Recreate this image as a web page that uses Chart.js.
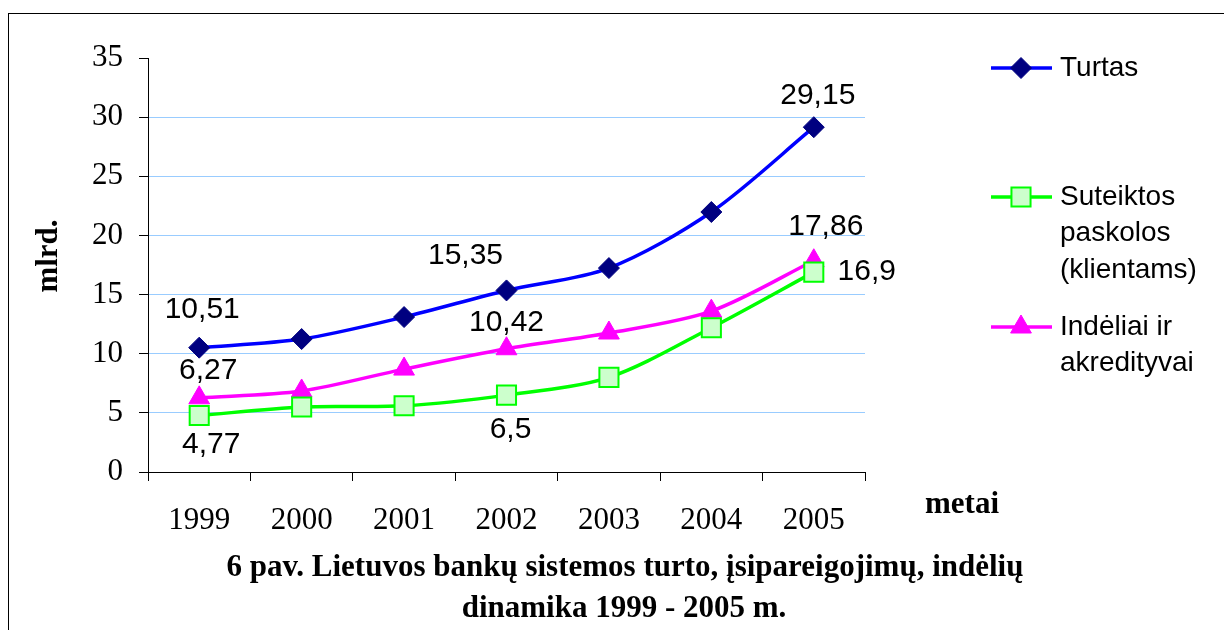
<!DOCTYPE html>
<html>
<head>
<meta charset="utf-8">
<script src="https://cdn.jsdelivr.net/npm/chart.js@4/dist/chart.umd.min.js"></script>
<style>
    html, body { margin: 0; padding: 0; background: #fff; }
    #wrap { position: relative; width: 1224px; height: 630px; }
    #frame { position: absolute; left: 8px; top: 13px; width: 1230px; height: 640px; border: 1.5px solid #000; box-sizing: border-box; }
    canvas { position: absolute; left: 0; top: 0; }
</style>
</head>
<body>
<div id="wrap">
    <div id="frame"></div>
    <canvas id="line-canvas" width="1224" height="630"></canvas>
</div>
<script>
    const years = ['1999', '2000', '2001', '2002', '2003', '2004', '2005'];
    const turtas = [10.51, 11.24, 13.1, 15.35, 17.24, 21.98, 29.15];
    const paskolos = [4.77, 5.5, 5.6, 6.5, 8.0, 12.2, 16.9];
    const indeliai = [6.27, 6.85, 8.7, 10.42, 11.75, 13.6, 17.86];
    const yTicks = [0, 5, 10, 15, 20, 25, 30, 35];

    // which points get a value label, and where the text sits relative to the point
    const labelSpots = [
        { ds: 0, i: 0, dx: 3, dy: -38 },
        { ds: 0, i: 3, dx: -41, dy: -35 },
        { ds: 0, i: 6, dx: 4, dy: -31 },
        { ds: 1, i: 0, dx: 12, dy: 29 },
        { ds: 1, i: 3, dx: 4, dy: 35 },
        { ds: 1, i: 6, dx: 53, dy: 0 },
        { ds: 2, i: 0, dx: 9, dy: -27 },
        { ds: 2, i: 3, dx: 0, dy: -26 },
        { ds: 2, i: 6, dx: 12, dy: -34 }
    ];

    const legendItems = [
        { ds: 0, y: 68, lines: ['Turtas'] },
        { ds: 1, y: 197, lines: ['Suteiktos', 'paskolos', '(klientams)'] },
        { ds: 2, y: 327, lines: ['Indėliai ir', 'akredityvai'] }
    ];

    const fmt = v => String(v).replace('.', ',');

    const extrasPlugin = {
        id: 'extras',
        afterDatasetsDraw(chart) {
            const ctx = chart.ctx;
            ctx.save();
            ctx.fillStyle = '#000';
            ctx.textAlign = 'center';
            ctx.textBaseline = 'middle';
            ctx.font = '30px "Liberation Sans", Arial, sans-serif';
            labelSpots.forEach(s => {
                const pt = chart.getDatasetMeta(s.ds).data[s.i];
                const v = chart.data.datasets[s.ds].data[s.i];
                ctx.fillText(fmt(v), pt.x + s.dx, pt.y + s.dy);
            });

            // legend
            legendItems.forEach(item => {
                const d = chart.data.datasets[item.ds];
                ctx.strokeStyle = d.borderColor;
                ctx.lineWidth = 3.5;
                ctx.beginPath();
                ctx.moveTo(991, item.y);
                ctx.lineTo(1052, item.y);
                ctx.stroke();
                ctx.fillStyle = d.pointBackgroundColor;
                ctx.strokeStyle = d.pointBorderColor;
                ctx.lineWidth = d.pointBorderWidth;
                Chart.helpers.drawPoint(ctx, { pointStyle: d.pointStyle, radius: d.pointRadius, borderWidth: d.pointBorderWidth }, 1021, item.y);
                ctx.fillStyle = '#000';
                ctx.textAlign = 'left';
                ctx.font = '28px "Liberation Sans", Arial, sans-serif';
                item.lines.forEach((t, k) => ctx.fillText(t, 1060, item.y + k * 36.5));
            });

            // axis titles and caption
            ctx.font = 'bold 31px "Liberation Serif", "Times New Roman", serif';
            ctx.textAlign = 'center';
            ctx.fillText('metai', 962, 505);
            ctx.fillText('6 pav. Lietuvos bankų sistemos turto, įsipareigojimų, indėlių', 625, 568);
            ctx.fillText('dinamika 1999 - 2005 m.', 624, 609);
            ctx.translate(49, 256);
            ctx.rotate(-Math.PI / 2);
            ctx.fillText('mlrd.', 0, 0);
            ctx.restore();
        }
    };

    const ctx = document.getElementById('line-canvas').getContext('2d');
    new Chart(ctx, {
        type: 'line',
        data: {
            labels: years,
            datasets: [{
                label: 'Turtas',
                data: turtas,
                borderColor: '#0000FF',
                borderWidth: 3.5,
                pointStyle: 'rectRot',
                pointRadius: 10.5,
                pointBackgroundColor: '#000080',
                pointBorderColor: '#000080',
                pointBorderWidth: 1
            }, {
                label: 'Suteiktos paskolos (klientams)',
                data: paskolos,
                borderColor: '#00FF00',
                borderWidth: 3.5,
                pointStyle: 'rect',
                pointRadius: 13.5,
                pointBackgroundColor: '#CCFFCC',
                pointBorderColor: '#00FF00',
                pointBorderWidth: 2
            }, {
                label: 'Indėliai ir akredityvai',
                data: indeliai,
                borderColor: '#FF00FF',
                borderWidth: 3.5,
                pointStyle: 'triangle',
                pointRadius: 12,
                pointBackgroundColor: '#FF00FF',
                pointBorderColor: '#FF00FF',
                pointBorderWidth: 1
            }]
        },
        options: {
            responsive: false,
            animation: false,
            devicePixelRatio: 1,
            tension: 0.3,
            layout: { padding: { top: 58, right: 359, left: 0, bottom: 0 } },
            plugins: { legend: { display: false }, tooltip: { enabled: false } },
            scales: {
                x: {
                    offset: true,
                    grid: { drawOnChartArea: false, offset: true, tickColor: '#000', tickLength: 9 },
                    border: { color: '#000', width: 1 },
                    ticks: { color: '#000', padding: 21, font: { family: '"Liberation Serif", "Times New Roman", serif', size: 31 } },
                    afterFit(scale) { scale.height = 158; }
                },
                y: {
                    min: 0,
                    max: 35,
                    afterBuildTicks(scale) { scale.ticks = yTicks.map(v => ({ value: v })); },
                    grid: {
                        color: c => (c.tick && (c.tick.value === 0 || c.tick.value === 35)) ? 'rgba(0,0,0,0)' : '#99CCFF',
                        tickColor: '#000',
                        tickLength: 9
                    },
                    border: { color: '#000', width: 1 },
                    ticks: { color: '#000', padding: 16, font: { family: '"Liberation Serif", "Times New Roman", serif', size: 31 } },
                    afterFit(scale) { scale.width = 148; }
                }
            }
        },
        plugins: [extrasPlugin]
    });
</script>
</body>
</html>
